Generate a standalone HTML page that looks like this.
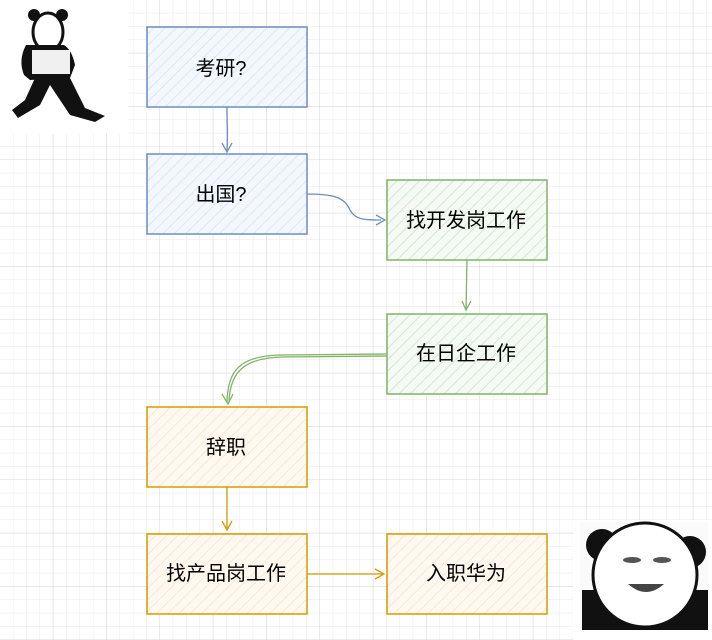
<!DOCTYPE html>
<html><head><meta charset="utf-8"><style>
html,body{margin:0;padding:0;background:#fff}
svg{display:block}
text{font-family:"Liberation Sans","Noto Sans CJK SC",sans-serif;font-size:20px;fill:#000}
</style></head><body>
<svg width="712" height="640" viewBox="0 0 712 640" xmlns="http://www.w3.org/2000/svg">
<defs>
<pattern id="g" width="13.333" height="13.333" patternUnits="userSpaceOnUse">
<path d="M13.333 0V13.333H0" fill="none" stroke="#e8e8e8" stroke-width="1"/>
</pattern>
<pattern id="G" width="53.333" height="53.333" patternUnits="userSpaceOnUse">
<path d="M53.333 0V53.333H0" fill="none" stroke="#d8d8d8" stroke-width="1"/>
</pattern>
<pattern id="hb" width="8" height="8" patternUnits="userSpaceOnUse" patternTransform="rotate(45)"><rect width="8" height="8" fill="#f4f8fe"/><line x1="0" y1="0" x2="0" y2="8" stroke="#dae8fc" stroke-width="2"/></pattern>
<pattern id="hg" width="8" height="8" patternUnits="userSpaceOnUse" patternTransform="rotate(45)"><rect width="8" height="8" fill="#f5faf4"/><line x1="0" y1="0" x2="0" y2="8" stroke="#d5e8d4" stroke-width="2"/></pattern>
<pattern id="ho" width="8" height="8" patternUnits="userSpaceOnUse" patternTransform="rotate(45)"><rect width="8" height="8" fill="#fff9f2"/><line x1="0" y1="0" x2="0" y2="8" stroke="#ffe6cc" stroke-width="2"/></pattern>
</defs>
<rect width="712" height="640" fill="url(#g)"/>
<rect width="712" height="640" fill="url(#G)"/>

<!-- panda top-left -->
<rect x="0" y="0" width="128" height="134" fill="#fff"/>
<ellipse cx="48" cy="32" rx="15" ry="19" fill="#fff" stroke="#111" stroke-width="3"/>
<circle cx="34" cy="15" r="6" fill="#111"/><circle cx="62" cy="15" r="6" fill="#111"/>
<path d="M26 45 Q18 60 24 75 L30 80 L70 78 L75 65 Q72 50 64 45 Z" fill="#111"/>
<rect x="32" y="50" width="38" height="24" fill="#f0f0f0"/>
<path d="M35 78 L25 100 L12 110 L18 118 L40 105 L50 85 L70 115 L95 122 L105 116 L85 108 L70 78 Z" fill="#111"/>

<!-- panda bottom-right -->
<rect x="573" y="520" width="139" height="120" fill="#fff"/>
<rect x="580" y="522" width="128" height="108" fill="#fafafa"/>
<circle cx="602" cy="545" r="16" fill="#111"/><circle cx="690" cy="552" r="16" fill="#111"/>
<path d="M582 590 L582 630 L708 630 L708 590 Z" fill="#111"/>
<ellipse cx="645" cy="575" rx="52" ry="52" fill="#fff" stroke="#111" stroke-width="3"/>
<ellipse cx="632" cy="560" rx="9" ry="3" fill="#555"/><ellipse cx="662" cy="560" rx="9" ry="3" fill="#555"/>
<path d="M628 584 Q646 600 664 584 Z" fill="#444"/>

<!-- connectors -->
<g fill="none" stroke-width="1.3">
<path d="M227 107 C227 125 228 135 227 150" stroke="#6c8ebf"/>
<path d="M222 143 L227 152 L232 143" stroke="#6c8ebf"/>
<path d="M307 194 C340 194 345 200 350 210 C355 220 365 220 381 220" stroke="#6c8ebf"/>
<path d="M376 215 L385 220 L376 225" stroke="#6c8ebf"/>
<path d="M467 260 L466 310" stroke="#82b366"/>
<path d="M462 301 L466 310 L471 301" stroke="#82b366"/>
<path d="M387 354 L280 355 C240 356 228 370 227 402" stroke="#82b366"/>
<path d="M387 356 L282 357 C244 358 230 372 229 402" stroke="#82b366"/>
<path d="M222 394 L228 404 L233 394" stroke="#82b366"/>
<path d="M227 487 L227 530" stroke="#d79b00"/>
<path d="M222 521 L227 530 L232 521" stroke="#d79b00"/>
<path d="M307 574 L383 574" stroke="#d79b00"/>
<path d="M375 569 L384 574 L375 579" stroke="#d79b00"/>
</g>

<!-- boxes -->
<g stroke-width="1.5">
<rect x="147" y="27" width="160" height="80" fill="url(#hb)" stroke="#6c8ebf"/>
<rect x="147" y="154" width="160" height="80" fill="url(#hb)" stroke="#6c8ebf"/>
<rect x="387" y="180" width="160" height="80" fill="url(#hg)" stroke="#82b366"/>
<rect x="387" y="314" width="160" height="80" fill="url(#hg)" stroke="#82b366"/>
<rect x="147" y="407" width="160" height="80" fill="url(#ho)" stroke="#d79b00"/>
<rect x="147" y="534" width="160" height="80" fill="url(#ho)" stroke="#d79b00"/>
<rect x="387" y="534" width="160" height="80" fill="url(#ho)" stroke="#d79b00"/>
</g>
<g text-anchor="middle">
<text x="221" y="75">考研?</text>
<text x="221" y="201">出国?</text>
<text x="466" y="227">找开发岗工作</text>
<text x="466" y="360">在日企工作</text>
<text x="226" y="454">辞职</text>
<text x="226" y="580">找产品岗工作</text>
<text x="466" y="580">入职华为</text>
</g>
</svg>
</body></html>
